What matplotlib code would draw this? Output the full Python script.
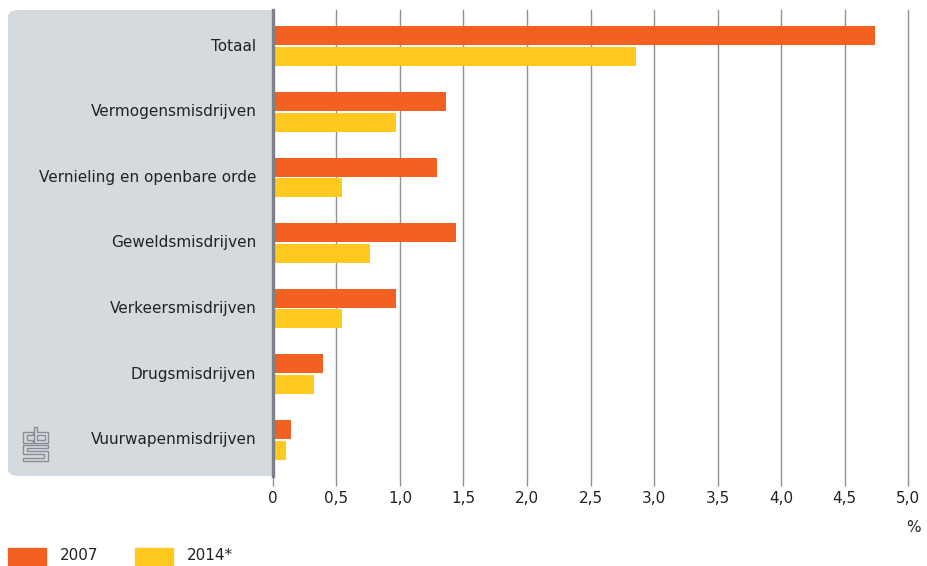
import numpy as np
import matplotlib
matplotlib.use("Agg")
import matplotlib.pyplot as plt
from matplotlib.patches import FancyBboxPatch, Rectangle, Polygon

# Misdrijfcategorieën en percentages per jaar
categories = ["Totaal", "Vermogensmisdrijven", "Vernieling en openbare orde",
              "Geweldsmisdrijven", "Verkeersmisdrijven", "Drugsmisdrijven",
              "Vuurwapenmisdrijven"]
vals_2007 = [4.74, 1.36, 1.29, 1.44, 0.97, 0.39, 0.14]
vals_2014 = [2.86, 0.97, 0.54, 0.76, 0.54, 0.32, 0.10]
series_labels = ["2007", "2014*"]
xticks = np.arange(0, 5.01, 0.5)
xtick_labels = ["0"] + [f"{t:.1f}".replace(".", ",") for t in xticks[1:]]

ORANGE = "#F26122"
YELLOW = "#FFC91F"
PANEL = "#D5DADF"
AXIS = "#7C8089"
GRID = "#8E9197"
TEXT = "#222222"

W, H = 928, 566
fig = plt.figure(figsize=(W / 100, H / 100), dpi=100)
plt.rcParams['font.family'] = ['DejaVu Sans']


def fx(px):
    return px / W


def fy(py):
    return 1 - py / H


ax = fig.add_axes([fx(273), fy(476), fx(908) - fx(273), fy(10) - fy(476)])
ax.set_facecolor("white")

# grijs paneel achter de labels, links afgerond
panel = FancyBboxPatch((fx(8), fy(476)), fx(300) - fx(8), fy(10) - fy(476),
                       boxstyle="round,pad=0,rounding_size=0.012",
                       transform=fig.transFigure, facecolor=PANEL,
                       edgecolor="none", zorder=-5)
fig.patches.append(panel)

y = np.arange(len(categories))
h = 0.29
off = 0.157
ax.barh(y - off, vals_2007, height=h, color=ORANGE, zorder=3)
ax.barh(y + off, vals_2014, height=h, color=YELLOW, zorder=3)

ax.set_xlim(0, 5)
ax.set_ylim(len(categories) - 0.45, -0.55)
ax.set_yticks([])

ax.set_xticks(xticks)
ax.set_xticklabels(xtick_labels, fontsize=11, color=TEXT)
ax.tick_params(axis="x", length=7, width=1, color=GRID, pad=4)
for t in xticks[1:]:
    ax.axvline(t, color=GRID, lw=1.0, zorder=1, clip_on=False)

for s in ["top", "right", "bottom"]:
    ax.spines[s].set_visible(False)
ax.spines["left"].set_color(AXIS)
ax.spines["left"].set_linewidth(2.4)
ax.spines["left"].set_zorder(5)

# categorie-labels op het grijze paneel
for i, name in enumerate(categories):
    ax.annotate(name, xy=(0, i), xycoords=("axes fraction", "data"),
                xytext=(-12, 0), textcoords="offset points",
                ha="right", va="center", fontsize=11, color=TEXT)

fig.text(fx(913), fy(527), "%", ha="center", va="center", fontsize=11, color=TEXT)

# legenda
fig.patches.append(Rectangle((fx(8), fy(565)), fx(38), fy(548) - fy(565),
                             transform=fig.transFigure, color=ORANGE))
fig.text(fx(60), fy(556), series_labels[0], ha="left", va="center", fontsize=11, color=TEXT)
fig.patches.append(Rectangle((fx(135), fy(565)), fx(38), fy(548) - fy(565),
                             transform=fig.transFigure, color=YELLOW))
fig.text(fx(187), fy(556), series_labels[1], ha="left", va="center", fontsize=11, color=TEXT)

# cbs-logo als omlijnde vormen
logo = [
    [(33, 432), (23, 432), (23, 443), (33, 443), (33, 440), (27, 440), (27, 435), (33, 435)],
    [(34, 427), (37, 427), (37, 432), (48, 432), (48, 443), (34, 443)],
    [(37, 435), (45, 435), (45, 440), (37, 440)],
    [(23, 445), (48, 445), (48, 448), (27, 448), (27, 451), (48, 451), (48, 461),
     (23, 461), (23, 458), (44, 458), (44, 454), (23, 454)],
]
for path in logo:
    pts = [(fx(p[0]), fy(p[1])) for p in path]
    fig.patches.append(Polygon(pts, closed=True, transform=fig.transFigure,
                               facecolor="none", edgecolor="#8A8E94", lw=1.0))

fig.savefig("out.png", dpi=100)
